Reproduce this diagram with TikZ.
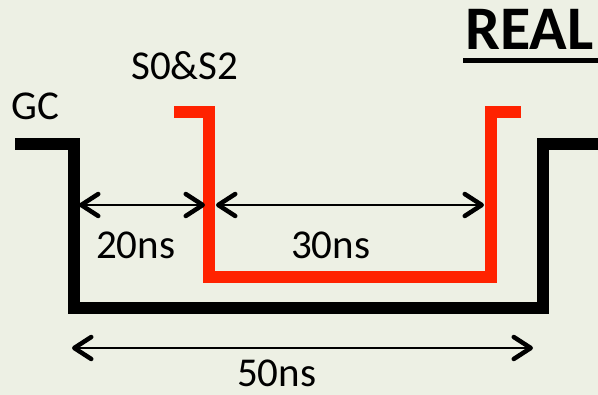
\documentclass[tikz,border=0pt]{standalone}
\usepackage{fontspec}
\setmainfont{Carlito}
\usetikzlibrary{arrows.meta}
\definecolor{paper}{RGB}{237,240,228}
\definecolor{sigred}{RGB}{255,34,0}
\tikzset{
  signal/.style={line width=12pt, line join=miter, line cap=butt},
  gcline/.style={signal, black},
  selline/.style={signal, sigred},
  span/.style={line width=2pt, black,
    {Straight Barb[length=17pt,width=22pt,line width=4.5pt,round]}-{Straight Barb[length=17pt,width=22pt,line width=4.5pt,round]}},
  lbl/.style={anchor=base west, inner sep=0pt, font=\fontsize{41}{41}\selectfont}
}
\begin{document}
\begin{tikzpicture}[x=1pt,y=-1pt]
  \fill[paper] (0,0) rectangle (598,395);
  \useasboundingbox (0,0) rectangle (598,395);

  % GC waveform
  \draw[gcline] (15,144) -- (74,144) -- (74,308) -- (543,308) -- (543,144) -- (598,144);
  % S0&S2 waveform
  \draw[selline] (174,112) -- (209,112) -- (209,277) -- (491,277) -- (491,112) -- (521,112);

  % reference points for the spans
  \coordinate (gcL) at (79,205);
  \coordinate (rdL) at (205,205);
  \coordinate (rdL2) at (216,205);
  \coordinate (rdR) at (484,205);
  \coordinate (totL) at (72,348);
  \coordinate (totR) at (533,348);

  \draw[span] (gcL) -- (rdL);
  \draw[span] (rdL2) -- (rdR);
  \draw[span] (totL) -- (totR);

  % labels
  \node[lbl] (gc) at (11,120) {GC};
  \node[lbl] (sel) at (131,80) {S0\&S2};
  \node[lbl] (t20) at (96,259) {20ns};
  \node[lbl] (t30) at (291,259) {30ns};
  \node[lbl] (t50) at (237,387) {50ns};
  \node[anchor=base west, inner sep=0pt, font=\fontsize{62}{62}\selectfont\bfseries] (real) at (465,50) {REAL};
  \draw[line width=5pt] (463,60.5) -- (598,60.5);
\end{tikzpicture}
\end{document}
